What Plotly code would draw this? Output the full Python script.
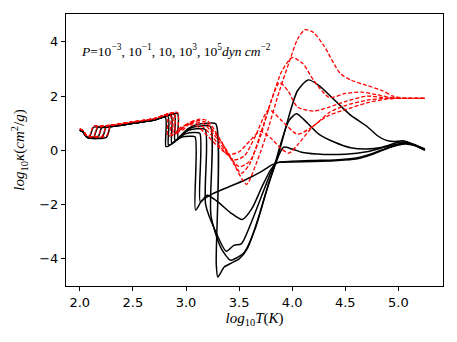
import plotly.graph_objects as go

# black solid curves (one per pressure, low -> high)
B0_X = [2.0, 2.03, 2.07, 2.09, 2.13, 2.2, 2.3, 2.5, 2.7, 2.805, 2.81, 2.83, 2.9, 2.97, 3.03, 3.085, 3.09, 3.15, 3.25, 3.4, 3.55, 3.7, 3.8, 3.86, 4.0, 4.2, 4.4, 4.6, 4.75, 4.9, 5.0, 5.07, 5.15, 5.25]
B0_Y = [0.75, 0.68, 0.48, 0.48, 0.86, 0.84, 0.88, 1.0, 1.12, 1.22, 0.15, 0.15, 0.35, 0.5, 0.52, 0.5, -2.2, -1.85, -1.6, -1.35, -1.1, -0.8, -0.55, -0.45, -0.43, -0.41, -0.38, -0.32, -0.15, 0.08, 0.2, 0.24, 0.18, 0.0]
B1_X = [2.0, 2.03, 2.07, 2.13, 2.17, 2.22, 2.3, 2.5, 2.7, 2.83, 2.835, 2.86, 2.93, 3.0, 3.07, 3.13, 3.135, 3.2, 3.3, 3.42, 3.53, 3.62, 3.72, 3.8, 3.86, 4.0, 4.2, 4.4, 4.6, 4.75, 4.9, 5.0, 5.07, 5.15, 5.25]
B1_Y = [0.75, 0.68, 0.48, 0.48, 0.86, 0.85, 0.88, 1.0, 1.12, 1.25, 0.2, 0.22, 0.45, 0.62, 0.66, 0.63, -1.9, -1.65, -1.9, -2.3, -2.55, -2.15, -1.3, -0.7, -0.45, -0.4, -0.37, -0.35, -0.28, -0.12, 0.1, 0.22, 0.26, 0.2, 0.02]
B2_X = [2.0, 2.03, 2.07, 2.17, 2.21, 2.25, 2.3, 2.5, 2.7, 2.86, 2.865, 2.89, 2.96, 3.03, 3.1, 3.18, 3.185, 3.28, 3.38, 3.45, 3.52, 3.6, 3.7, 3.8, 3.86, 3.92, 4.0, 4.1, 4.3, 4.5, 4.7, 4.9, 5.05, 5.15, 5.25]
B2_Y = [0.75, 0.68, 0.48, 0.48, 0.87, 0.86, 0.88, 1.0, 1.12, 1.28, 0.28, 0.3, 0.58, 0.75, 0.8, 0.77, -2.0, -3.0, -3.72, -3.5, -3.45, -2.8, -1.8, -0.8, -0.3, 0.12, 0.05, -0.08, -0.15, -0.14, -0.05, 0.15, 0.27, 0.2, 0.02]
B3_X = [2.0, 2.03, 2.07, 2.21, 2.25, 2.28, 2.32, 2.5, 2.7, 2.89, 2.895, 2.92, 2.99, 3.06, 3.14, 3.23, 3.235, 3.33, 3.42, 3.48, 3.55, 3.65, 3.75, 3.83, 3.9, 3.97, 4.04, 4.12, 4.25, 4.4, 4.55, 4.7, 4.85, 5.0, 5.08, 5.25]
B3_Y = [0.75, 0.68, 0.48, 0.48, 0.88, 0.87, 0.9, 1.0, 1.12, 1.32, 0.38, 0.4, 0.7, 0.85, 0.9, 0.88, -2.4, -3.6, -4.05, -3.95, -3.75, -2.9, -1.6, -0.6, 0.35, 1.1, 1.35, 1.1, 0.6, 0.3, 0.1, 0.05, 0.12, 0.3, 0.3, 0.03]
B4_X = [2.0, 2.03, 2.07, 2.25, 2.29, 2.32, 2.5, 2.7, 2.92, 2.925, 2.95, 3.02, 3.1, 3.2, 3.28, 3.285, 3.3, 3.36, 3.43, 3.5, 3.58, 3.68, 3.78, 3.86, 3.95, 4.05, 4.15, 4.25, 4.4, 4.55, 4.7, 4.8, 4.88, 4.95, 5.05, 5.15, 5.25]
B4_Y = [0.75, 0.68, 0.48, 0.48, 0.9, 0.9, 1.0, 1.12, 1.36, 0.48, 0.5, 0.8, 0.95, 1.0, 0.98, -4.2, -4.67, -4.3, -4.15, -4.0, -3.6, -2.5, -1.2, -0.3, 1.0, 2.2, 2.6, 2.4, 1.85, 1.3, 0.9, 0.55, 0.38, 0.33, 0.35, 0.22, 0.05]

# red dashed curves (one per pressure, low -> high)
R0_X = [2.0, 2.03, 2.07, 2.09, 2.13, 2.2, 2.3, 2.5, 2.7, 2.82, 2.83, 2.87, 2.95, 3.03, 3.1, 3.2, 3.3, 3.4, 3.5, 3.6, 3.7, 3.8, 3.9, 3.97, 4.05, 4.2, 4.35, 4.5, 4.7, 4.9, 5.05, 5.25]
R0_Y = [0.8, 0.73, 0.53, 0.53, 0.9, 0.89, 0.93, 1.05, 1.17, 1.3, 0.55, 0.55, 0.85, 0.95, 0.9, 0.55, 0.15, -0.15, -0.05, 0.35, 0.7, 0.45, 0.05, -0.1, 0.2, 0.9, 1.3, 1.5, 1.75, 1.9, 1.92, 1.92]
R1_X = [2.0, 2.03, 2.07, 2.13, 2.17, 2.22, 2.3, 2.5, 2.7, 2.85, 2.86, 2.9, 2.98, 3.06, 3.13, 3.23, 3.33, 3.45, 3.55, 3.65, 3.78, 3.9, 4.05, 4.2, 4.35, 4.5, 4.7, 4.9, 5.05, 5.25]
R1_Y = [0.8, 0.73, 0.53, 0.53, 0.9, 0.9, 0.93, 1.05, 1.17, 1.33, 0.6, 0.6, 0.9, 1.0, 0.95, 0.6, 0.1, -0.35, -0.2, 0.5, 1.5, 1.1, 0.6, 0.9, 1.4, 1.65, 1.85, 1.92, 1.92, 1.92]
R2_X = [2.0, 2.03, 2.07, 2.17, 2.21, 2.25, 2.3, 2.5, 2.7, 2.87, 2.88, 2.92, 3.0, 3.08, 3.16, 3.26, 3.37, 3.5, 3.6, 3.7, 3.8, 3.88, 3.96, 4.05, 4.2, 4.35, 4.5, 4.7, 4.9, 5.05, 5.25]
R2_Y = [0.8, 0.73, 0.53, 0.53, 0.91, 0.91, 0.93, 1.05, 1.17, 1.36, 0.65, 0.65, 0.95, 1.05, 1.0, 0.6, 0.0, -0.6, -0.4, 0.5, 1.8, 2.5, 2.2, 1.6, 1.45, 1.6, 1.8, 2.0, 1.93, 1.92, 1.92]
R3_X = [2.0, 2.03, 2.07, 2.21, 2.25, 2.28, 2.32, 2.5, 2.7, 2.89, 2.9, 2.94, 3.02, 3.1, 3.18, 3.28, 3.4, 3.52, 3.6, 3.7, 3.8, 3.9, 4.0, 4.1, 4.2, 4.35, 4.5, 4.65, 4.8, 4.95, 5.05, 5.25]
R3_Y = [0.8, 0.73, 0.53, 0.53, 0.92, 0.92, 0.95, 1.05, 1.17, 1.38, 0.7, 0.7, 1.0, 1.1, 1.05, 0.6, -0.1, -0.85, -0.5, 0.6, 1.8, 2.9, 3.42, 3.2, 2.6, 1.95, 2.1, 2.15, 2.05, 1.93, 1.92, 1.92]
R4_X = [2.0, 2.03, 2.07, 2.25, 2.29, 2.32, 2.5, 2.7, 2.92, 2.93, 2.97, 3.05, 3.13, 3.2, 3.3, 3.45, 3.57, 3.65, 3.75, 3.88, 3.98, 4.05, 4.12, 4.2, 4.3, 4.45, 4.55, 4.7, 4.85, 4.95, 5.05, 5.25]
R4_Y = [0.8, 0.73, 0.53, 0.53, 0.94, 0.95, 1.05, 1.17, 1.4, 0.75, 0.75, 1.05, 1.15, 1.1, 0.55, -0.5, -1.25, -0.6, 0.5, 2.2, 3.35, 4.1, 4.45, 4.35, 3.85, 2.85, 2.6, 2.4, 2.2, 2.0, 1.93, 1.92]

X_TICKS = [2.0, 2.5, 3.0, 3.5, 4.0, 4.5, 5.0]
Y_TICKS = [-4, -2, 0, 2, 4]
Y_TICK_TEXT = ["\u22124", "\u22122", "0", "2", "4"]

fig = go.Figure()

for xs, ys in [(B0_X, B0_Y), (B1_X, B1_Y), (B2_X, B2_Y), (B3_X, B3_Y), (B4_X, B4_Y)]:
    fig.add_trace(go.Scatter(x=xs, y=ys, mode='lines', showlegend=False,
                             line=dict(color='black', width=1.5, shape='spline', smoothing=0.7)))

for xs, ys in [(R0_X, R0_Y), (R1_X, R1_Y), (R2_X, R2_Y), (R3_X, R3_Y), (R4_X, R4_Y)]:
    fig.add_trace(go.Scatter(x=xs, y=ys, mode='lines', showlegend=False,
                             line=dict(color='red', width=1.3, dash='4px,2px', shape='spline', smoothing=0.7)))

axis_style = dict(showgrid=False, zeroline=False, showline=True, linecolor='black', linewidth=1,
                  mirror=True, ticks='outside', ticklen=4, tickcolor='black', automargin=False,
                  tickfont=dict(family='DejaVu Sans', size=13, color='black'))

fig.update_layout(
    width=457, height=342,
    margin=dict(l=66, r=14, t=14, b=56),
    plot_bgcolor='white', paper_bgcolor='white',
    xaxis=dict(range=[1.87, 5.42], tickvals=X_TICKS, ticktext=[f'{v:.1f}' for v in X_TICKS],
               title=dict(text='<i>log</i><sub>10</sub><i>T</i>(<i>K</i>)', standoff=2,
                          font=dict(family='Liberation Serif', size=15, color='black')),
               **axis_style),
    yaxis=dict(range=[-5.0, 5.03], tickvals=Y_TICKS, ticktext=Y_TICK_TEXT,
               title=dict(text='<i>log</i><sub>10</sub><i>\u03ba</i>(<i>cm</i><sup>2</sup>/<i>g</i>)', standoff=10,
                          font=dict(family='Liberation Serif', size=15, color='black')),
               **axis_style),
)

fig.add_annotation(
    x=0.035, y=0.865, xref='paper', yref='paper', xanchor='left', yanchor='middle', showarrow=False,
    text='<i>P</i>=10<sup>\u22123</sup>, 10<sup>\u22121</sup>, 10, 10<sup>3</sup>, 10<sup>5</sup><i>dyn cm</i><sup>\u22122</sup>',
    font=dict(family='Liberation Serif', size=13.5, color='black'),
)

# drop the browser's default page margin so the figure sits at the top-left corner
fig.write_html("out.html", config={'displayModeBar': False},
               post_script="document.body.style.margin='0';document.body.style.padding='0';")
